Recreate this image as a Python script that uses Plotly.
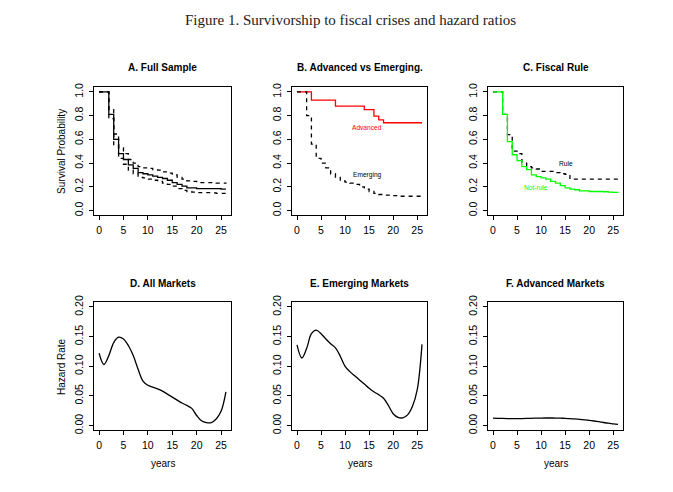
import plotly.graph_objects as go

# ---------------- data ----------------
years = list(range(27))

# A. Full sample Kaplan-Meier + confidence band
full_surv = [1.0, 1.0, 0.81, 0.60, 0.48, 0.43, 0.385, 0.355, 0.32, 0.31, 0.30, 0.29, 0.28, 0.27,
             0.255, 0.235, 0.22, 0.205, 0.19, 0.19, 0.185, 0.185, 0.185, 0.185, 0.185, 0.18, 0.18]
full_upper = [1.0, 1.0, 0.85, 0.645, 0.53, 0.48, 0.43, 0.40, 0.37, 0.36, 0.355, 0.345, 0.34, 0.325,
              0.315, 0.30, 0.28, 0.265, 0.25, 0.245, 0.235, 0.235, 0.235, 0.235, 0.23, 0.23, 0.225]
full_lower = [1.0, 1.0, 0.775, 0.555, 0.44, 0.39, 0.34, 0.31, 0.28, 0.275, 0.265, 0.255, 0.245, 0.23,
              0.22, 0.205, 0.185, 0.17, 0.16, 0.155, 0.15, 0.15, 0.15, 0.148, 0.145, 0.145, 0.14]

# B. Advanced vs Emerging
adv_times = [0, 3, 8, 14, 16, 17, 18, 26]
adv_surv = [1.0, 0.93, 0.88, 0.85, 0.795, 0.765, 0.74, 0.74]
emg_surv = [1.0, 1.0, 0.80, 0.56, 0.44, 0.40, 0.36, 0.31, 0.28, 0.25, 0.24, 0.23, 0.22, 0.20,
            0.18, 0.16, 0.145, 0.135, 0.13, 0.13, 0.125, 0.12, 0.12, 0.12, 0.12, 0.12, 0.115]

# C. Fiscal rule
rule_surv = [1.0, 1.0, 0.81, 0.64, 0.50, 0.48, 0.40, 0.37, 0.36, 0.35, 0.33, 0.33, 0.33, 0.32,
             0.31, 0.305, 0.265, 0.265, 0.265, 0.265, 0.265, 0.265, 0.265, 0.265, 0.265, 0.265, 0.265]
norule_surv = [1.0, 1.0, 0.81, 0.58, 0.47, 0.42, 0.37, 0.345, 0.30, 0.285, 0.275, 0.265, 0.245, 0.23,
               0.21, 0.19, 0.18, 0.175, 0.165, 0.165, 0.16, 0.16, 0.16, 0.158, 0.155, 0.152, 0.15]

# D-F. Hazard rates
haz_all = [0.122, 0.103, 0.118, 0.140, 0.149, 0.146, 0.135, 0.118, 0.095, 0.075, 0.068, 0.065, 0.062,
           0.058, 0.053, 0.048, 0.043, 0.038, 0.034, 0.029, 0.017, 0.008, 0.005, 0.005, 0.011, 0.024, 0.057]
haz_emg = [0.136, 0.114, 0.130, 0.155, 0.161, 0.155, 0.146, 0.138, 0.131, 0.117, 0.100, 0.091, 0.084,
           0.077, 0.070, 0.063, 0.057, 0.052, 0.046, 0.034, 0.020, 0.014, 0.013, 0.018, 0.032, 0.060, 0.137]
haz_adv = [0.0125, 0.0123, 0.012, 0.0118, 0.0117, 0.0117, 0.0118, 0.012, 0.0123, 0.0125, 0.0127, 0.0128,
           0.0128, 0.0127, 0.0125, 0.0122, 0.0118, 0.0112, 0.0105, 0.0097, 0.0088, 0.0077, 0.0065,
           0.0052, 0.004, 0.003, 0.002]

x_ticks = [0, 5, 10, 15, 20, 25]
surv_ticks = [0.0, 0.2, 0.4, 0.6, 0.8, 1.0]
surv_ticklabels = ["0.0", "0.2", "0.4", "0.6", "0.8", "1.0"]
haz_ticks = [0.0, 0.05, 0.10, 0.15, 0.20]
haz_ticklabels = ["0.00", "0.05", "0.10", "0.15", "0.20"]

panel_titles = ["A. Full Sample", "B. Advanced vs Emerging.", "C. Fiscal Rule",
                "D. All Markets", "E. Emerging Markets", "F. Advanced Markets"]

# ---------------- layout geometry ----------------
W, H = 673, 492
col_px = [(94, 231), (292, 427), (488, 623)]
row_px = [(82, 213), (302, 433)]

FONT = "Liberation Sans, Arial, Helvetica, sans-serif"
fig = go.Figure()

def px2x(p):
    return p / W

def px2y(p):
    return 1 - p / H

dash = "4px,4px"
lw = 1.3

def ax_name(i):
    return "" if i == 1 else str(i)

# traces
panel_traces = {
    1: [(years, full_surv, "black", "solid", "hv"),
        (years, full_upper, "black", dash, "hv"),
        (years, full_lower, "black", dash, "hv")],
    2: [(adv_times, adv_surv, "#ff0000", "solid", "hv"),
        (years, emg_surv, "black", dash, "hv")],
    3: [(years, rule_surv, "black", dash, "hv"),
        (years, norule_surv, "#00ff00", "solid", "hv")],
    4: [(years, haz_all, "black", "solid", "spline")],
    5: [(years, haz_emg, "black", "solid", "spline")],
    6: [(years, haz_adv, "black", "solid", "spline")],
}

for i in range(1, 7):
    for xs, ys, col, ds, shape in panel_traces[i]:
        line = dict(color=col, width=lw, dash=ds, shape=shape)
        if shape == "spline":
            line["smoothing"] = 1.0
        fig.add_trace(go.Scatter(x=xs, y=ys, mode="lines", line=line,
                                 xaxis="x" + ax_name(i), yaxis="y" + ax_name(i),
                                 showlegend=False, hoverinfo="skip"))

annotations = []
for i in range(1, 7):
    r = (i - 1) // 3
    c = (i - 1) % 3
    x0, x1 = col_px[c]
    y0, y1 = row_px[r]
    top = r == 0
    xa = dict(domain=[px2x(x0), px2x(x1)], range=[-1.04, 27.04], anchor="y" + ax_name(i),
              tickvals=x_ticks, ticktext=[str(t) for t in x_ticks],
              showline=True, mirror=True, linecolor="black", linewidth=1,
              ticks="outside", ticklen=4, tickcolor="black", tickwidth=1,
              showgrid=False, zeroline=False,
              tickfont=dict(family=FONT, size=10.5, color="black"), ticklabelstandoff=1)
    if top:
        ya = dict(range=[-0.04, 1.04], tickvals=surv_ticks, ticktext=surv_ticklabels)
    else:
        ya = dict(range=[-0.008, 0.208], tickvals=haz_ticks, ticktext=haz_ticklabels)
    ya.update(domain=[px2y(y1), px2y(y0)], anchor="x" + ax_name(i),
              showline=True, mirror=True, linecolor="black", linewidth=1,
              ticks="outside", ticklen=4, tickcolor="black", tickwidth=1,
              showgrid=False, zeroline=False, tickangle=-90,
              tickfont=dict(family=FONT, size=10.5, color="black"), ticklabelstandoff=2)
    fig.layout["xaxis" + ax_name(i)] = xa
    fig.layout["yaxis" + ax_name(i)] = ya

    # panel titles
    annotations.append(dict(text="<b>" + panel_titles[i - 1] + "</b>", xref="paper", yref="paper",
                            x=px2x((x0 + x1) / 2), y=px2y(61.7 if top else 282.7),
                            xanchor="center", yanchor="middle", showarrow=False,
                            font=dict(family=FONT, size=10, color="black")))
    if not top:
        annotations.append(dict(text="years", xref="paper", yref="paper",
                                x=px2x((x0 + x1) / 2), y=px2y(467.3),
                                xanchor="center", yanchor="middle", showarrow=False,
                                font=dict(family=FONT, size=10, color="black")))

annotations.append(dict(text="Survival Probability", xref="paper", yref="paper",
                        x=px2x(61.7), y=px2y((82 + 213) / 2), textangle=-90,
                        xanchor="center", yanchor="middle", showarrow=False,
                        font=dict(family=FONT, size=10, color="black")))
annotations.append(dict(text="Hazard Rate", xref="paper", yref="paper",
                        x=px2x(61.7), y=px2y((302 + 433) / 2), textangle=-90,
                        xanchor="center", yanchor="middle", showarrow=False,
                        font=dict(family=FONT, size=10, color="black")))

# in-plot curve labels
annotations += [
    dict(text="Advanced", xref="x2", yref="y2", x=14.6, y=0.70, showarrow=False,
         font=dict(family=FONT, size=6.6, color="#ff0000")),
    dict(text="Emerging", xref="x2", yref="y2", x=14.6, y=0.30, showarrow=False,
         font=dict(family=FONT, size=6.6, color="black")),
    dict(text="Rule", xref="x3", yref="y3", x=15.1, y=0.40, showarrow=False,
         font=dict(family=FONT, size=6.6, color="black")),
    dict(text="Not-rule", xref="x3", yref="y3", x=9.0, y=0.195, showarrow=False,
         font=dict(family=FONT, size=6.6, color="#00ff00")),
]

annotations.append(dict(text="Figure 1. Survivorship to fiscal crises and hazard ratios",
                        xref="paper", yref="paper", x=px2x(350), y=px2y(13.5),
                        xanchor="center", yanchor="middle", showarrow=False,
                        font=dict(family="Liberation Serif, Times New Roman, serif", size=15,
                                  color="#222222")))

fig.update_layout(width=W, height=H, margin=dict(l=0, r=0, t=0, b=0),
                  paper_bgcolor="white", plot_bgcolor="white",
                  annotations=annotations, showlegend=False)

fig.write_html("out.html")
